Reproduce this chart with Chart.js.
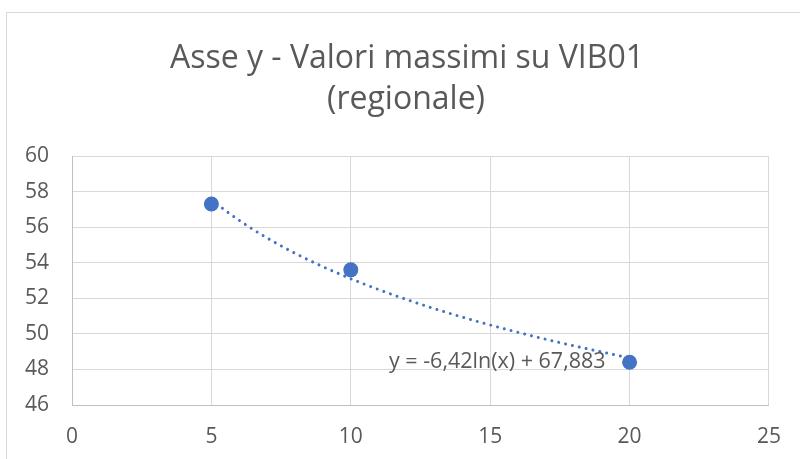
<!DOCTYPE html>
<html>
<head>
<meta charset="utf-8">
<script src="https://cdn.jsdelivr.net/npm/chart.js@4"></script>
<style>
  html, body { margin: 0; padding: 0; background: #ffffff; }
  #wrap { width: 800px; height: 459px; position: relative; }
</style>
</head>
<body>
<div id="wrap"><canvas id="c" width="800" height="459"></canvas></div>
<script>
// ---- data ----
const xValues = [5, 10, 20];
const yValues = [57.3, 53.6, 48.4];
const titleLines = ['Asse y - Valori massimi su VIB01', '(regionale)'];
const xTicks = [0, 5, 10, 15, 20, 25];
const yTicks = [46, 48, 50, 52, 54, 56, 58, 60];
// logarithmic trendline shown on the chart: y = a*ln(x) + b
const trendA = -6.42;
const trendB = 67.883;
const trendLabel = 'y = -6,42ln(x) + 67,883';

const BLUE = '#4472C4';
const TEXT = '#595959';
const GRID = '#d9d9d9';
const FONT = '"Open Sans", "Liberation Sans", sans-serif';

const points = xValues.map((x, i) => ({ x: x, y: yValues[i] }));

const framePlugin = {
  id: 'frame',
  beforeDraw(chart) {
    const ctx = chart.ctx;
    ctx.save();
    ctx.fillStyle = '#ffffff';
    ctx.fillRect(0, 0, chart.width, chart.height);
    ctx.strokeStyle = GRID;
    ctx.lineWidth = 1;
    ctx.strokeRect(6.5, 12.5, chart.width + 20, chart.height + 20);
    ctx.restore();
  }
};

const titlePlugin = {
  id: 'twoLineTitle',
  afterDraw(chart) {
    const ctx = chart.ctx;
    ctx.save();
    ctx.fillStyle = TEXT;
    ctx.font = '32px ' + FONT;
    ctx.textAlign = 'center';
    ctx.textBaseline = 'alphabetic';
    ctx.fillText(titleLines[0], 407, 68);
    ctx.fillText(titleLines[1], 406, 109);
    ctx.restore();
  }
};

const trendPlugin = {
  id: 'trend',
  beforeDatasetsDraw(chart) {
    const xs = chart.scales.x, ys = chart.scales.y;
    const ctx = chart.ctx;
    const x0 = Math.min(...xValues), x1 = Math.max(...xValues);
    ctx.save();
    ctx.strokeStyle = BLUE;
    ctx.lineWidth = 3;
    ctx.lineCap = 'round';
    ctx.setLineDash([0.01, 7]);
    ctx.beginPath();
    const n = 120;
    for (let i = 0; i <= n; i++) {
      const xv = x0 + (x1 - x0) * i / n;
      const yv = trendA * Math.log(xv) + trendB;
      const px = xs.getPixelForValue(xv), py = ys.getPixelForValue(yv);
      if (i === 0) ctx.moveTo(px, py); else ctx.lineTo(px, py);
    }
    ctx.stroke();
    ctx.restore();
  },
  afterDatasetsDraw(chart) {
    const xs = chart.scales.x, ys = chart.scales.y;
    const ctx = chart.ctx;
    const last = xValues.length - 1;
    const px = xs.getPixelForValue(xValues[last]);
    const py = ys.getPixelForValue(yValues[last]);
    ctx.save();
    ctx.fillStyle = TEXT;
    ctx.font = '21.5px ' + FONT;
    ctx.textAlign = 'right';
    ctx.textBaseline = 'alphabetic';
    ctx.fillText(trendLabel, px - 24, py + 6);
    ctx.restore();
  }
};

new Chart(document.getElementById('c'), {
  type: 'scatter',
  data: {
    datasets: [{
      data: points,
      backgroundColor: BLUE,
      borderColor: BLUE,
      borderWidth: 0,
      pointRadius: 7.5,
      pointHoverRadius: 7.5
    }]
  },
  options: {
    responsive: false,
    animation: false,
    devicePixelRatio: 1,
    layout: { padding: { left: 0, right: 28, top: 156, bottom: 0 } },
    plugins: {
      legend: { display: false },
      title: { display: false },
      tooltip: { enabled: false }
    },
    scales: {
      x: {
        type: 'linear',
        min: xTicks[0],
        max: xTicks[xTicks.length - 1],
        afterBuildTicks(scale) { scale.ticks = xTicks.map(v => ({ value: v })); },
        afterFit(scale) { scale.height = 54; },
        grid: { color: GRID, lineWidth: 1, drawTicks: false },
        border: { color: '#bfbfbf', width: 1 },
        ticks: { color: TEXT, font: { family: FONT, size: 21 }, padding: 19 }
      },
      y: {
        type: 'linear',
        min: yTicks[0],
        max: yTicks[yTicks.length - 1],
        afterBuildTicks(scale) { scale.ticks = yTicks.map(v => ({ value: v })); },
        afterFit(scale) { scale.width = 72; },
        grid: { color: GRID, lineWidth: 1, drawTicks: false },
        border: { color: '#bfbfbf', width: 1 },
        ticks: { color: TEXT, font: { family: FONT, size: 21 }, padding: 23 }
      }
    }
  },
  plugins: [framePlugin, titlePlugin, trendPlugin]
});
</script>
</body>
</html>
